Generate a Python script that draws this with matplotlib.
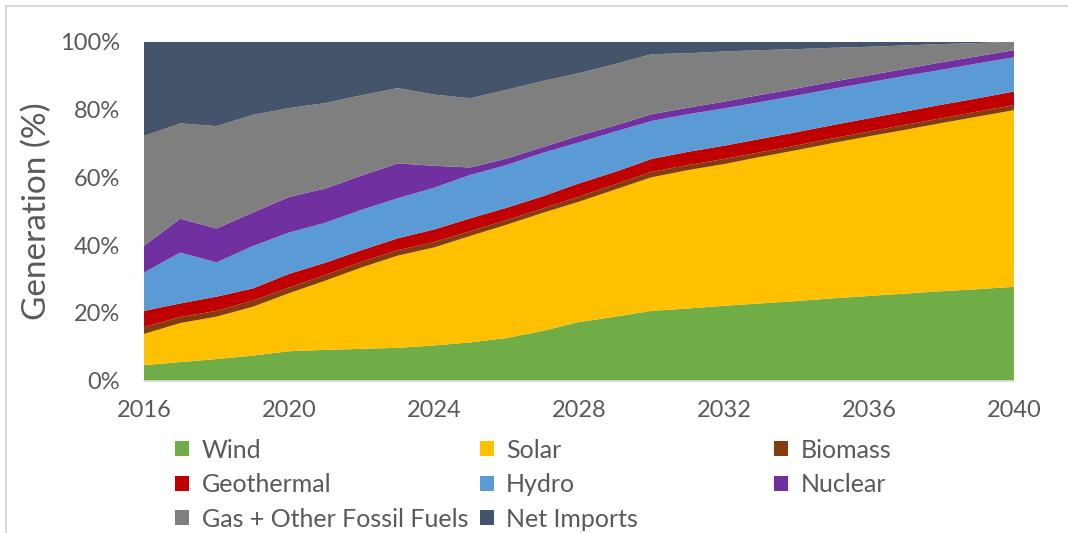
import matplotlib
matplotlib.use("Agg")
import matplotlib.pyplot as plt
from matplotlib.patches import Patch, Rectangle
from matplotlib.ticker import FuncFormatter

plt.rcParams['font.family'] = ['Lato', 'DejaVu Sans']

years = list(range(2016, 2041))

# generation share by source, % of total
wind = [4.6, 5.5, 6.4, 7.4, 8.7, 9.1, 9.4, 9.7, 10.4, 11.3, 12.6, 14.7, 17.3,
        18.9, 20.6, 21.3, 22.1, 22.8, 23.5, 24.3, 25.0, 25.7, 26.4, 27.0, 27.7]
solar = [9.2, 11.5, 12.5, 14.4, 17.1, 20.4, 24.0, 27.2, 28.9, 31.4, 33.4, 34.8, 35.5,
         37.5, 39.4, 40.8, 41.8, 43.2, 44.5, 45.8, 47.1, 48.3, 49.6, 50.9, 52.1]
biomass = [2.0, 1.8, 1.7, 1.8, 1.7, 1.7, 1.7, 1.6, 1.6, 1.4, 1.4, 1.3, 1.5,
           1.5, 1.6, 1.5, 1.5, 1.4, 1.4, 1.4, 1.4, 1.5, 1.4, 1.5, 1.5]
geothermal = [4.8, 4.0, 4.2, 3.6, 4.0, 3.6, 3.4, 3.5, 3.7, 3.8, 3.6, 3.6, 3.9,
              3.7, 3.8, 3.9, 3.9, 3.9, 3.9, 3.9, 3.9, 3.9, 4.0, 3.9, 4.0]
hydro = [11.3, 15.0, 10.1, 12.5, 12.2, 11.8, 11.9, 11.8, 12.3, 12.8, 12.6, 12.8, 12.1,
         11.9, 11.2, 11.1, 11.0, 10.9, 10.8, 10.7, 10.6, 10.5, 10.3, 10.3, 10.1]
nuclear = [7.9, 10.0, 10.0, 9.9, 10.5, 10.1, 10.1, 10.3, 6.5, 2.2, 1.9, 1.7, 2.0,
           1.8, 2.0, 1.9, 2.0, 2.1, 2.1, 2.1, 2.1, 2.1, 2.2, 2.1, 2.1]
gas_fossil = [32.4, 28.1, 30.2, 28.8, 26.2, 25.2, 23.7, 22.2, 21.0, 20.4, 20.3, 19.5, 18.4,
              18.1, 17.7, 16.1, 14.8, 13.2, 11.6, 10.0, 8.4, 6.9, 5.4, 3.9, 2.5]
net_imports = [27.8, 24.1, 24.9, 21.6, 19.6, 18.1, 15.8, 13.7, 15.6, 16.7, 14.2, 11.6, 9.3,
               6.6, 3.7, 3.4, 2.9, 2.5, 2.2, 1.8, 1.5, 1.1, 0.7, 0.4, 0.0]

labels = ["Wind", "Solar", "Biomass", "Geothermal", "Hydro", "Nuclear",
          "Gas + Other Fossil Fuels", "Net Imports"]
colors = ["#70AD47", "#FFC000", "#843C0C", "#C00000", "#5B9BD5", "#7030A0",
          "#7F7F7F", "#44546A"]
series = [wind, solar, biomass, geothermal, hydro, nuclear, gas_fossil, net_imports]

text_grey = "#595959"

fig = plt.figure(figsize=(10.68, 5.33), dpi=100)
ax = fig.add_axes([0.1348, 0.2857, 0.8146, 0.6361])

ax.stackplot(years, *series, colors=colors, labels=labels, linewidth=0)

ax.set_xlim(2016, 2040)
ax.set_ylim(0, 100)
ax.set_xticks(range(2016, 2041, 4))
ax.set_yticks(range(0, 101, 20))
ax.yaxis.set_major_formatter(FuncFormatter(lambda v, p: f"{v:.0f}%"))
ax.tick_params(length=0, labelsize=17, colors=text_grey)
ax.tick_params(axis="x", pad=14)
ax.tick_params(axis="y", pad=17)
for side in ["top", "right", "left"]:
    ax.spines[side].set_visible(False)
ax.spines["bottom"].set_color("#D9D9D9")
ax.spines["bottom"].set_linewidth(1.2)

ax.set_ylabel("Generation (%)", fontsize=24, color=text_grey, labelpad=6)

# legend in three columns, placed by hand so the spacing follows the layout
handles = [Patch(facecolor=c, edgecolor="none") for c in colors]
col_x = [0.164, 0.449, 0.725]
columns = [[0, 3, 6], [1, 4, 7], [2, 5]]
for x, idx in zip(col_x, columns):
    leg = fig.legend([handles[i] for i in idx], [labels[i] for i in idx],
                     loc="upper left", bbox_to_anchor=(x, 0.177), frameon=False,
                     fontsize=18, handlelength=0.56, handleheight=0.56,
                     handletextpad=0.5, labelspacing=0.46, borderpad=0,
                     borderaxespad=0)
    for t in leg.get_texts():
        t.set_color(text_grey)

# light frame round the chart
fig.patches.append(Rectangle((6 / 1068, -0.05), 1.2, 1 - 6 / 533 + 0.05,
                             transform=fig.transFigure, fill=False,
                             edgecolor="#D9D9D9", linewidth=1.5))

fig.savefig("out.png", dpi=100)
